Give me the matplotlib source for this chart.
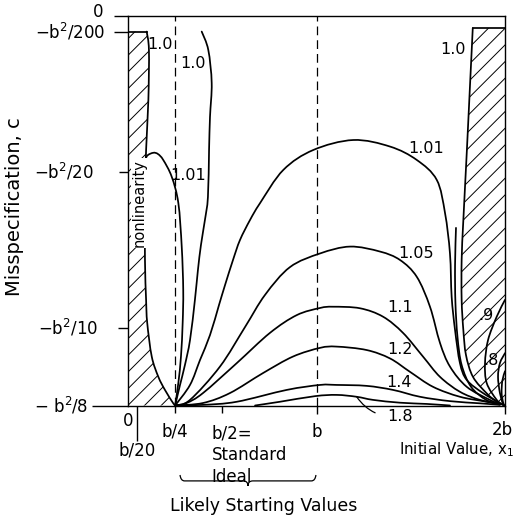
import matplotlib.pyplot as plt
import numpy as np
from matplotlib.path import Path
from matplotlib.patches import PathPatch

plt.rcParams['font.family'] = 'DejaVu Sans'
plt.rcParams['mathtext.default'] = 'regular'
plt.rcParams['hatch.linewidth'] = 0.7

# x = initial value (units of b), c = misspecification (units of b^2)
left_edge_x = [0.099, 0.111, 0.108, 0.096, 0.090, 0.090, 0.096, 0.102, 0.126, 0.161, 0.196, 0.239, 0.250]
left_edge_c = [-0.0050, -0.0109, -0.0270, -0.0430, -0.0590, -0.0783, -0.0911, -0.0985, -0.1093, -0.1158, -0.1200, -0.1242, -0.1250]

right_edge_x = [1.829, 1.814, 1.797, 1.779, 1.770, 1.770, 1.779, 1.793, 1.830, 1.903, 1.958, 2.000]
right_edge_c = [-0.0039, -0.0227, -0.0440, -0.0655, -0.0783, -0.0911, -0.1008, -0.1088, -0.1158, -0.1211, -0.1239, -0.1250]

c101_left_x = [0.090, 0.101, 0.134, 0.159, 0.187, 0.232, 0.267, 0.285, 0.293, 0.290, 0.281, 0.267, 0.250]
c101_left_c = [-0.0472, -0.0449, -0.0439, -0.0443, -0.0462, -0.0516, -0.0600, -0.0740, -0.0879, -0.0985, -0.1093, -0.1178, -0.1250]

c100_x = [0.391, 0.426, 0.444, 0.435, 0.430, 0.424, 0.408, 0.387, 0.371, 0.355, 0.329, 0.302, 0.276, 0.250]
c100_c = [-0.0050, -0.0109, -0.0215, -0.0324, -0.0430, -0.0581, -0.0655, -0.0735, -0.0815, -0.0911, -0.1040, -0.1120, -0.1184, -0.1250]

c101_x = [0.250, 0.329, 0.382, 0.435, 0.483, 0.515, 0.557, 0.594, 0.647, 0.700, 0.824, 0.983, 1.195, 1.390,
          1.532, 1.638, 1.682, 1.708, 1.717, 1.735, 1.761, 1.797, 1.883, 1.973]
c101_c = [-0.1250, -0.1184, -0.1104, -0.1024, -0.0927, -0.0863, -0.0783, -0.0719, -0.0655, -0.0601, -0.0494, -0.0430, -0.0398, -0.0419,
          -0.0462, -0.0526, -0.0633, -0.0762, -0.0901, -0.1008, -0.1114, -0.1168, -0.1210, -0.1242]

c105_x = [0.250, 0.329, 0.488, 0.621, 0.727, 0.859, 1.019, 1.178, 1.337, 1.443, 1.532, 1.602, 1.655, 1.708, 1.797, 1.920, 1.973]
c105_c = [-0.1250, -0.1232, -0.1125, -0.0998, -0.0895, -0.0806, -0.0762, -0.0740, -0.0756, -0.0783, -0.0837, -0.0933, -0.1049, -0.1125, -0.1190, -0.1232, -0.1245]

c11_x = [0.250, 0.311, 0.398, 0.577, 0.753, 0.895, 1.019, 1.088, 1.231, 1.353, 1.459, 1.565, 1.655, 1.761, 1.867, 1.973]
c11_c = [-0.1250, -0.1242, -0.1210, -0.1114, -0.1017, -0.0960, -0.0937, -0.0933, -0.0938, -0.0965, -0.1017, -0.1093, -0.1158, -0.1206, -0.1232, -0.1245]

c12_x = [0.250, 0.398, 0.541, 0.716, 0.875, 1.019, 1.107, 1.266, 1.390, 1.496, 1.618, 1.761, 1.903, 1.973]
c12_c = [-0.1250, -0.1242, -0.1210, -0.1146, -0.1093, -0.1065, -0.1061, -0.1072, -0.1099, -0.1142, -0.1190, -0.1222, -0.1238, -0.1247]

c14_x = [0.250, 0.398, 0.577, 0.842, 1.019, 1.107, 1.266, 1.406, 1.549, 1.708, 1.867, 1.973]
c14_c = [-0.1250, -0.1248, -0.1238, -0.1200, -0.1184, -0.1184, -0.1187, -0.1200, -0.1222, -0.1236, -0.1243, -0.1248]

c18_x = [0.674, 0.806, 0.992, 1.107, 1.213, 1.300, 1.443, 1.585, 1.708]
c18_c = [-0.1250, -0.1238, -0.1220, -0.1216, -0.1222, -0.1232, -0.1241, -0.1245, -0.1250]

cx_x = [1.740, 1.735, 1.737, 1.748, 1.770, 1.820, 1.900, 1.973]
cx_c = [-0.0680, -0.0800, -0.0920, -0.1030, -0.1120, -0.1190, -0.1232, -0.1245]

c09_x = [2.000, 1.956, 1.910, 1.894, 1.903, 1.956, 1.990]
c09_c = [-0.0911, -0.0965, -0.1040, -0.1114, -0.1178, -0.1232, -0.1248]

c08_x = [2.000, 1.973, 1.963, 1.973, 1.990]
c08_c = [-0.1082, -0.1114, -0.1158, -0.1210, -0.1248]

c07_x = [2.000, 1.986, 1.982, 1.990, 1.997]
c07_c = [-0.1140, -0.1170, -0.1210, -0.1240, -0.1250]

# contour labels
lab_text = ['1.0', '1.0', '1.01', '1.0', '1.01', '1.05', '1.1', '1.2', '1.4', '.9', '.8']
lab_x = [0.170, 0.345, 0.318, 1.724, 1.581, 1.528, 1.443, 1.443, 1.438, 1.899, 1.926]
lab_c = [-0.0093, -0.0151, -0.0513, -0.0106, -0.0424, -0.0761, -0.0937, -0.1069, -0.1175, -0.0960, -0.1107]

# axis ticks
xtick_vals = [0, 0.05, 0.25, 0.5, 1.0, 2.0]
xtick_lab = ['0', 'b/20', 'b/4', 'b/2=\nStandard\nIdeal', 'b', '2b']
xtick_len = [0, 25, 5, 5, 6, 6]
ytick_vals = [0, -0.005, -0.05, -0.1, -0.125]
ytick_lab = ['0', r'$-b^2/200$', r'$-b^2/20$', r'$-b^2/10$', r'$-\ b^2/8$']
ytick_len = [10, 10, 6.5, 7, 26]


def smooth(xs, cs):
    # bezier path through the read points (Catmull-Rom control points)
    p = np.column_stack([xs, cs])
    verts, codes = [p[0]], [Path.MOVETO]
    for i in range(len(p) - 1):
        p0 = p[i - 1] if i > 0 else p[i]
        p3 = p[i + 2] if i + 2 < len(p) else p[i + 1]
        verts += [p[i] + (p[i + 1] - p0) / 6, p[i + 1] - (p3 - p[i]) / 6, p[i + 1]]
        codes += [Path.CURVE4] * 3
    return Path(verts, codes)


fig = plt.figure(figsize=(5.18, 5.20), dpi=100)
ax = fig.add_axes([128 / 518, 1 - 405.5 / 520, 377 / 518, 389.5 / 520])
ax.set_xlim(0, 2)
ax.set_ylim(-0.125, 0)

for s in ax.spines.values():
    s.set_linewidth(1.0)

# hatched regions
ax.fill_betweenx(left_edge_c, 0, left_edge_x, facecolor='none', edgecolor='k', hatch='//', linewidth=0)
ax.fill_betweenx(right_edge_c, right_edge_x, 2, facecolor='none', edgecolor='k', hatch='//', linewidth=0)

lw = 1.25
ax.plot([0, left_edge_x[0]], [left_edge_c[0]] * 2, color='k', lw=lw)
ax.plot([2, right_edge_x[0]], [right_edge_c[0]] * 2, color='k', lw=lw)

for xs, cs in [(left_edge_x, left_edge_c), (right_edge_x, right_edge_c),
               (c101_left_x, c101_left_c), (c100_x, c100_c), (c101_x, c101_c), (c105_x, c105_c),
               (c11_x, c11_c), (c12_x, c12_c), (c14_x, c14_c), (c18_x, c18_c), (cx_x, cx_c),
               (c09_x, c09_c), (c08_x, c08_c), (c07_x, c07_c)]:
    ax.add_patch(PathPatch(smooth(xs, cs), fill=False, lw=lw, edgecolor='k', capstyle='round'))

ax.axvline(0.25, color='k', lw=0.9, ls=(0, (7, 4)))
ax.axvline(1.0, color='k', lw=0.9, ls=(0, (7, 4)))

for t, x, c in zip(lab_text, lab_x, lab_c):
    ax.text(x, c, t, ha='center', va='center', fontsize=11.5)

ax.text(0.058, -0.060, 'nonlinearity', rotation=90, ha='center', va='center', fontsize=10.5,
        bbox=dict(facecolor='white', edgecolor='none', pad=0.5))

ax.annotate('1.8', xy=(1.213, -0.1222), xytext=(1.443, -0.1284), ha='center', va='center',
            fontsize=11.5, annotation_clip=False,
            arrowprops=dict(arrowstyle='-', lw=0.9, color='k', shrinkA=7, shrinkB=0,
                            connectionstyle='arc3,rad=-0.3'))

# ticks
ax.set_xticks(xtick_vals, [''] * len(xtick_vals))
ax.set_yticks(ytick_vals, [''] * len(ytick_vals))
ax.tick_params(direction='out', width=1.0)
for t, L in zip(ax.xaxis.get_major_ticks(), xtick_len):
    t.tick1line.set_markersize(L)
for t, L in zip(ax.yaxis.get_major_ticks(), ytick_len):
    t.tick1line.set_markersize(L)

x_off = [(0, -4.7), (0, -26), (0, -12.6), (-7.5, -14), (0, -12.6), (-2, -11.5)]
for v, s, off in zip(xtick_vals, xtick_lab, x_off):
    ha = 'left' if '\n' in s else 'center'
    ax.annotate(s, xy=(v, 0), xycoords=('data', 'axes fraction'), xytext=off,
                textcoords='offset points', ha=ha, va='top', fontsize=12,
                linespacing=1.25, annotation_clip=False)

y_off = [(-18, 3), (-16.5, 0), (-25, 0), (-21.6, 0), (-29, 0)]
for v, s, off in zip(ytick_vals, ytick_lab, y_off):
    ax.annotate(s, xy=(0, v), xycoords=('axes fraction', 'data'), xytext=off,
                textcoords='offset points', ha='right', va='center', fontsize=12,
                annotation_clip=False)

# brace under b/4 .. b
bx0, bx1 = xtick_vals[2] + 0.026, xtick_vals[4] - 0.003
bm = (bx0 + bx1) / 2
ct, cb, cp = -0.1473, -0.1492, -0.1508
verts = [(bx0, ct), (bx0 + 0.004, cb), (bx0 + 0.024, cb), (bm - 0.026, cb), (bm, cb), (bm, cp),
         (bm, cb), (bm + 0.026, cb), (bx1 - 0.024, cb), (bx1 - 0.004, cb), (bx1, ct)]
codes = [Path.MOVETO, Path.CURVE3, Path.CURVE3, Path.LINETO, Path.CURVE3, Path.CURVE3,
         Path.CURVE3, Path.CURVE3, Path.LINETO, Path.CURVE3, Path.CURVE3]
ax.add_patch(PathPatch(Path(verts, codes), fill=False, lw=0.9, clip_on=False))

fig.text(15 / 518, 1 - 207 / 520, 'Misspecification, c', rotation=90, ha='center', va='center', fontsize=14)
fig.text(399 / 518, 1 - 450 / 520, 'Initial Value, $x_1$', ha='left', va='center', fontsize=10.8)
fig.text(264 / 518, 1 - 506 / 520, 'Likely Starting Values', ha='center', va='center', fontsize=12.5)

fig.savefig('out.png', dpi=100)
